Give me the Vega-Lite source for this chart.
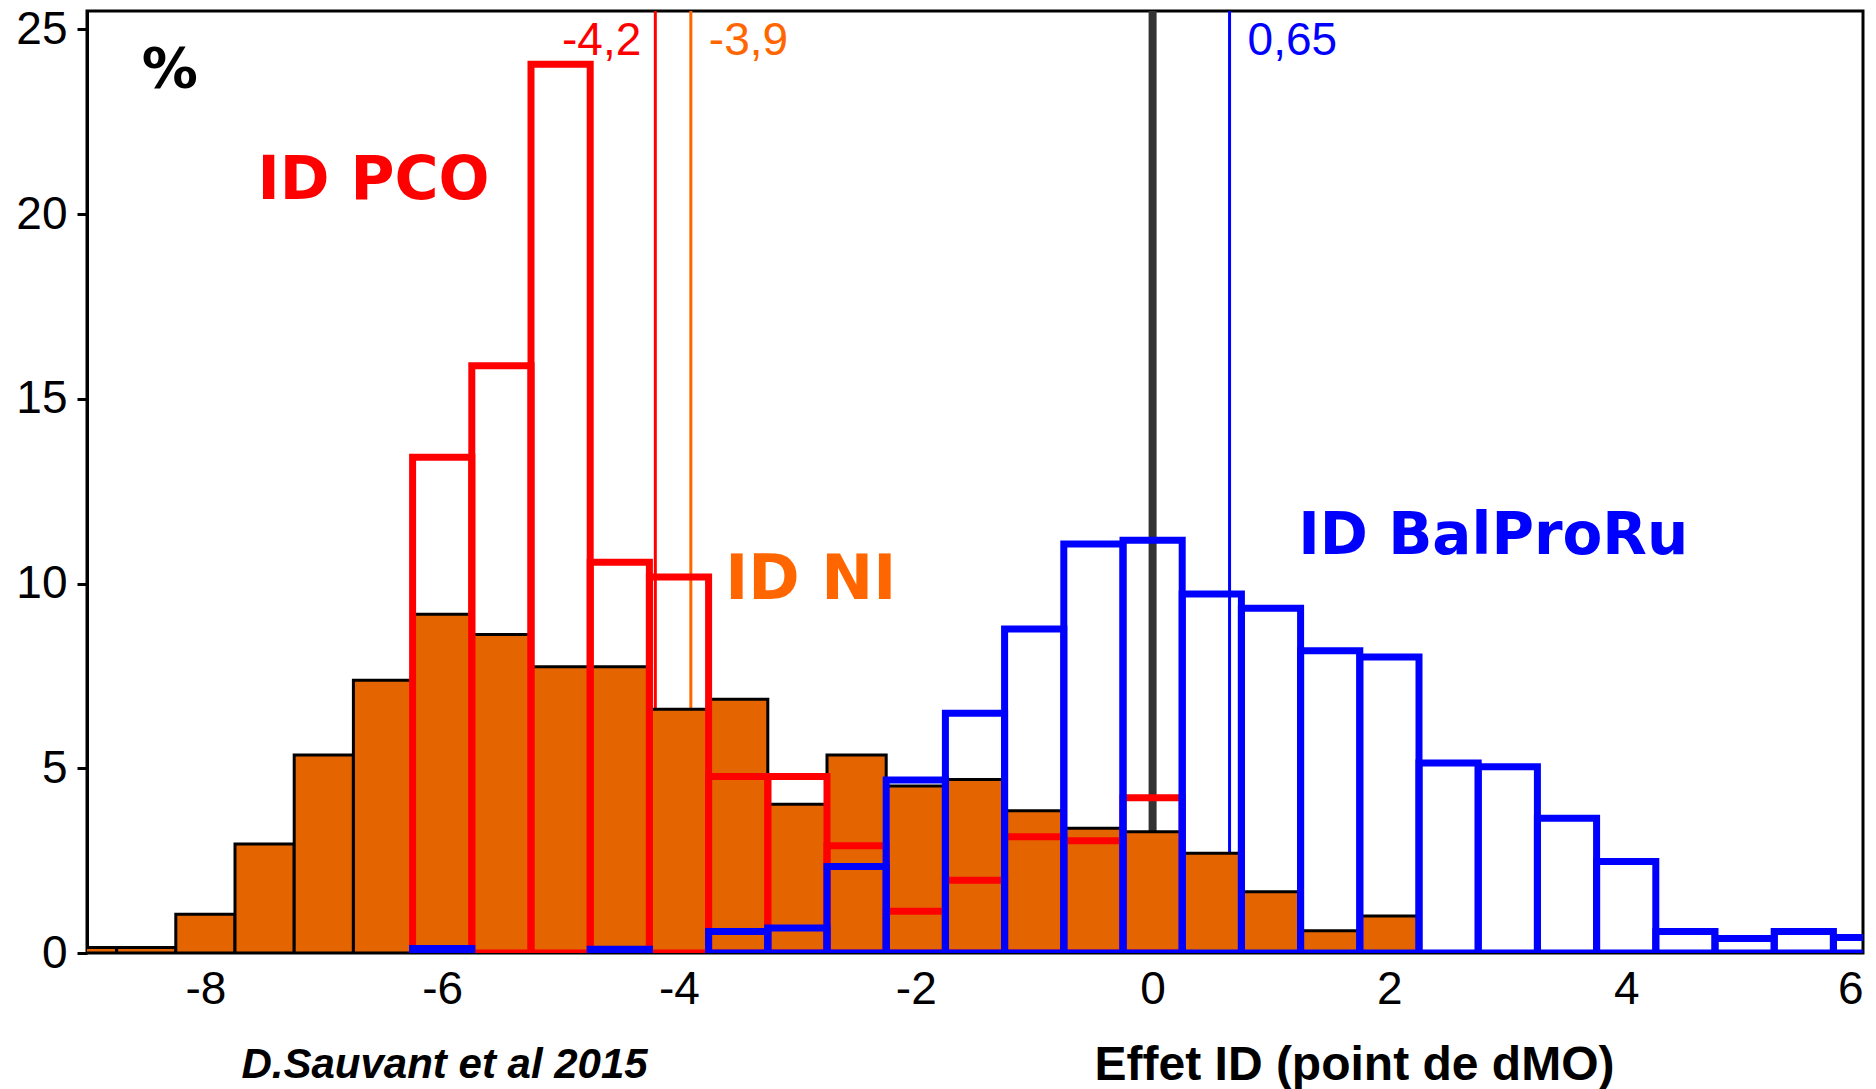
{
  "$schema": "https://vega.github.io/schema/vega-lite/v6.json",
  "description": "Distribution of the ID effect (points of dMO) for ID NI, ID PCO and ID BalProRu, D.Sauvant et al 2015.",
  "width": 1776,
  "height": 942,
  "autosize": {"type": "none"},
  "padding": {"left": 87, "top": 11, "right": 13, "bottom": 136},
  "background": "white",
  "config": {
    "view": {"stroke": "black", "strokeWidth": 3},
    "axis": {
      "labelFont": "Liberation Sans",
      "labelFontSize": 46,
      "labelColor": "black",
      "domainColor": "black",
      "domainWidth": 3,
      "tickColor": "black",
      "tickWidth": 3,
      "grid": false
    }
  },
  "datasets": {
    "bins": [
      {"grp": "NI", "lo": -9.25, "hi": -8.75, "pct": 0.15},
      {"grp": "NI", "lo": -8.75, "hi": -8.25, "pct": 0.15},
      {"grp": "NI", "lo": -8.25, "hi": -7.75, "pct": 1.05},
      {"grp": "NI", "lo": -7.75, "hi": -7.25, "pct": 2.95},
      {"grp": "NI", "lo": -7.25, "hi": -6.75, "pct": 5.36},
      {"grp": "NI", "lo": -6.75, "hi": -6.25, "pct": 7.38},
      {"grp": "NI", "lo": -6.25, "hi": -5.75, "pct": 9.17},
      {"grp": "NI", "lo": -5.75, "hi": -5.25, "pct": 8.62},
      {"grp": "NI", "lo": -5.25, "hi": -4.75, "pct": 7.75},
      {"grp": "NI", "lo": -4.75, "hi": -4.25, "pct": 7.75},
      {"grp": "NI", "lo": -4.25, "hi": -3.75, "pct": 6.6},
      {"grp": "NI", "lo": -3.75, "hi": -3.25, "pct": 6.87},
      {"grp": "NI", "lo": -3.25, "hi": -2.75, "pct": 4.03},
      {"grp": "NI", "lo": -2.75, "hi": -2.25, "pct": 5.36},
      {"grp": "NI", "lo": -2.25, "hi": -1.75, "pct": 4.52},
      {"grp": "NI", "lo": -1.75, "hi": -1.25, "pct": 4.7},
      {"grp": "NI", "lo": -1.25, "hi": -0.75, "pct": 3.85},
      {"grp": "NI", "lo": -0.75, "hi": -0.25, "pct": 3.38},
      {"grp": "NI", "lo": -0.25, "hi": 0.25, "pct": 3.28},
      {"grp": "NI", "lo": 0.25, "hi": 0.75, "pct": 2.7},
      {"grp": "NI", "lo": 0.75, "hi": 1.25, "pct": 1.66},
      {"grp": "NI", "lo": 1.25, "hi": 1.75, "pct": 0.6},
      {"grp": "NI", "lo": 1.75, "hi": 2.25, "pct": 1.0},
      {"grp": "PCO", "lo": -6.25, "hi": -5.75, "pct": 13.42},
      {"grp": "PCO", "lo": -5.75, "hi": -5.25, "pct": 15.9},
      {"grp": "PCO", "lo": -5.25, "hi": -4.75, "pct": 24.06},
      {"grp": "PCO", "lo": -4.75, "hi": -4.25, "pct": 10.58},
      {"grp": "PCO", "lo": -4.25, "hi": -3.75, "pct": 10.18},
      {"grp": "PCO", "lo": -3.75, "hi": -3.25, "pct": 4.78},
      {"grp": "PCO", "lo": -3.25, "hi": -2.75, "pct": 4.78},
      {"grp": "PCO", "lo": -2.75, "hi": -2.25, "pct": 2.9},
      {"grp": "PCO", "lo": -2.25, "hi": -1.75, "pct": 1.13},
      {"grp": "PCO", "lo": -1.75, "hi": -1.25, "pct": 1.97},
      {"grp": "PCO", "lo": -1.25, "hi": -0.75, "pct": 3.15},
      {"grp": "PCO", "lo": -0.75, "hi": -0.25, "pct": 3.04},
      {"grp": "PCO", "lo": -0.25, "hi": 0.25, "pct": 4.2},
      {"grp": "BalProRu", "lo": -6.25, "hi": -5.75, "pct": 0.12},
      {"grp": "BalProRu", "lo": -4.75, "hi": -4.25, "pct": 0.1},
      {"grp": "BalProRu", "lo": -3.75, "hi": -3.25, "pct": 0.58},
      {"grp": "BalProRu", "lo": -3.25, "hi": -2.75, "pct": 0.68},
      {"grp": "BalProRu", "lo": -2.75, "hi": -2.25, "pct": 2.34},
      {"grp": "BalProRu", "lo": -2.25, "hi": -1.75, "pct": 4.68},
      {"grp": "BalProRu", "lo": -1.75, "hi": -1.25, "pct": 6.49},
      {"grp": "BalProRu", "lo": -1.25, "hi": -0.75, "pct": 8.77},
      {"grp": "BalProRu", "lo": -0.75, "hi": -0.25, "pct": 11.07},
      {"grp": "BalProRu", "lo": -0.25, "hi": 0.25, "pct": 11.17},
      {"grp": "BalProRu", "lo": 0.25, "hi": 0.75, "pct": 9.72},
      {"grp": "BalProRu", "lo": 0.75, "hi": 1.25, "pct": 9.33},
      {"grp": "BalProRu", "lo": 1.25, "hi": 1.75, "pct": 8.18},
      {"grp": "BalProRu", "lo": 1.75, "hi": 2.25, "pct": 8.01},
      {"grp": "BalProRu", "lo": 2.25, "hi": 2.75, "pct": 5.14},
      {"grp": "BalProRu", "lo": 2.75, "hi": 3.25, "pct": 5.04},
      {"grp": "BalProRu", "lo": 3.25, "hi": 3.75, "pct": 3.65},
      {"grp": "BalProRu", "lo": 3.75, "hi": 4.25, "pct": 2.48},
      {"grp": "BalProRu", "lo": 4.25, "hi": 4.75, "pct": 0.58},
      {"grp": "BalProRu", "lo": 4.75, "hi": 5.25, "pct": 0.39},
      {"grp": "BalProRu", "lo": 5.25, "hi": 5.75, "pct": 0.58},
      {"grp": "BalProRu", "lo": 5.75, "hi": 6.25, "pct": 0.42}
    ],
    "means": [
      {"grp": "PCO", "m": -4.2, "lab": "-4,2"},
      {"grp": "NI", "m": -3.9, "lab": "-3,9"},
      {"grp": "BalProRu", "m": 0.65, "lab": "0,65"}
    ]
  },
  "layer": [
    {
      "data": {"values": [{"ref": 0}]},
      "mark": {"type": "rule", "color": "#333333", "strokeWidth": 8},
      "encoding": {
        "x": {
          "field": "ref",
          "type": "quantitative",
          "scale": {"domain": [-9, 6], "nice": false, "zero": false},
          "axis": {
            "values": [-8, -6, -4, -2, 0, 2, 4, 6],
            "labelExpr": "'' + datum.value",
            "ticks": false,
            "domain": false,
            "labelPadding": 14,
            "title": "Effet ID (point de dMO)",
            "titleFont": "Liberation Sans",
            "titleFontSize": 48,
            "titleFontWeight": "bold",
            "titleColor": "black",
            "titleX": 1267,
            "titleY": 112,
            "titleBaseline": "middle"
          }
        }
      }
    },
    {
      "data": {"name": "means"},
      "mark": {"type": "rule", "strokeWidth": 3},
      "encoding": {
        "x": {"field": "m", "type": "quantitative"},
        "color": {
          "field": "grp",
          "type": "nominal",
          "scale": {"domain": ["PCO", "NI", "BalProRu"], "range": ["#FF0000", "#FF6600", "#0000FF"]},
          "legend": null
        }
      }
    },
    {
      "data": {"name": "bins"},
      "transform": [{"filter": "datum.grp === 'NI'"}],
      "mark": {"type": "rect", "fill": "#E46400", "stroke": "black", "strokeWidth": 3, "clip": true},
      "encoding": {
        "x": {"field": "lo", "type": "quantitative"},
        "x2": {"field": "hi"},
        "y": {
          "field": "pct",
          "type": "quantitative",
          "scale": {"domain": [0, 25.5], "nice": false},
          "axis": {
            "values": [0, 5, 10, 15, 20, 25],
            "tickSize": 10,
            "labelPadding": 10,
            "title": null
          }
        },
        "y2": {"datum": 0}
      }
    },
    {
      "data": {"name": "bins"},
      "transform": [{"filter": "datum.grp === 'PCO'"}],
      "mark": {"type": "rect", "fill": null, "stroke": "#FF0000", "strokeWidth": 7, "clip": true},
      "encoding": {
        "x": {"field": "lo", "type": "quantitative"},
        "x2": {"field": "hi"},
        "y": {"field": "pct", "type": "quantitative"},
        "y2": {"datum": 0}
      }
    },
    {
      "data": {"name": "bins"},
      "transform": [{"filter": "datum.grp === 'BalProRu'"}],
      "mark": {"type": "rect", "fill": null, "stroke": "#0000FF", "strokeWidth": 7, "clip": true},
      "encoding": {
        "x": {"field": "lo", "type": "quantitative"},
        "x2": {"field": "hi"},
        "y": {"field": "pct", "type": "quantitative"},
        "y2": {"datum": 0}
      }
    },
    {
      "data": {"name": "means"},
      "transform": [{"filter": "datum.grp === 'PCO'"}],
      "mark": {"type": "text", "align": "right", "baseline": "middle", "dx": -14, "font": "Liberation Sans", "fontSize": 46},
      "encoding": {
        "x": {"field": "m", "type": "quantitative"},
        "y": {"datum": 24.7},
        "text": {"field": "lab"},
        "color": {"field": "grp", "type": "nominal", "legend": null}
      }
    },
    {
      "data": {"name": "means"},
      "transform": [{"filter": "datum.grp !== 'PCO'"}],
      "mark": {"type": "text", "align": "left", "baseline": "middle", "dx": 18, "font": "Liberation Sans", "fontSize": 46},
      "encoding": {
        "x": {"field": "m", "type": "quantitative"},
        "y": {"datum": 24.7},
        "text": {"field": "lab"},
        "color": {"field": "grp", "type": "nominal", "legend": null}
      }
    },
    {
      "data": {"values": [{"x": -8.3, "y": 23.9, "t": "%"}]},
      "mark": {"type": "text", "align": "center", "baseline": "middle", "font": "DejaVu Sans", "fontWeight": "bold", "fontSize": 56, "color": "black"},
      "encoding": {"x": {"field": "x", "type": "quantitative"}, "y": {"field": "y", "type": "quantitative"}, "text": {"field": "t"}}
    },
    {
      "data": {"values": [{"x": -7.56, "y": 20.9, "t": "ID PCO"}]},
      "mark": {"type": "text", "align": "left", "baseline": "middle", "font": "DejaVu Sans", "fontWeight": "bold", "fontSize": 60, "color": "#FF0000"},
      "encoding": {"x": {"field": "x", "type": "quantitative"}, "y": {"field": "y", "type": "quantitative"}, "text": {"field": "t"}}
    },
    {
      "data": {"values": [{"x": -3.61, "y": 10.1, "t": "ID NI"}]},
      "mark": {"type": "text", "align": "left", "baseline": "middle", "font": "DejaVu Sans", "fontWeight": "bold", "fontSize": 62, "color": "#FF6600"},
      "encoding": {"x": {"field": "x", "type": "quantitative"}, "y": {"field": "y", "type": "quantitative"}, "text": {"field": "t"}}
    },
    {
      "data": {"values": [{"x": 1.23, "y": 11.25, "t": "ID BalProRu"}]},
      "mark": {"type": "text", "align": "left", "baseline": "middle", "font": "DejaVu Sans", "fontWeight": "bold", "fontSize": 58, "color": "#0000FF"},
      "encoding": {"x": {"field": "x", "type": "quantitative"}, "y": {"field": "y", "type": "quantitative"}, "text": {"field": "t"}}
    },
    {
      "data": {"values": [{"x": -5.98, "y": -3.02, "t": "D.Sauvant et al 2015"}]},
      "mark": {"type": "text", "align": "center", "baseline": "middle", "font": "Liberation Sans", "fontWeight": "bold", "fontStyle": "italic", "fontSize": 42, "color": "black"},
      "encoding": {"x": {"field": "x", "type": "quantitative"}, "y": {"field": "y", "type": "quantitative"}, "text": {"field": "t"}}
    }
  ]
}
